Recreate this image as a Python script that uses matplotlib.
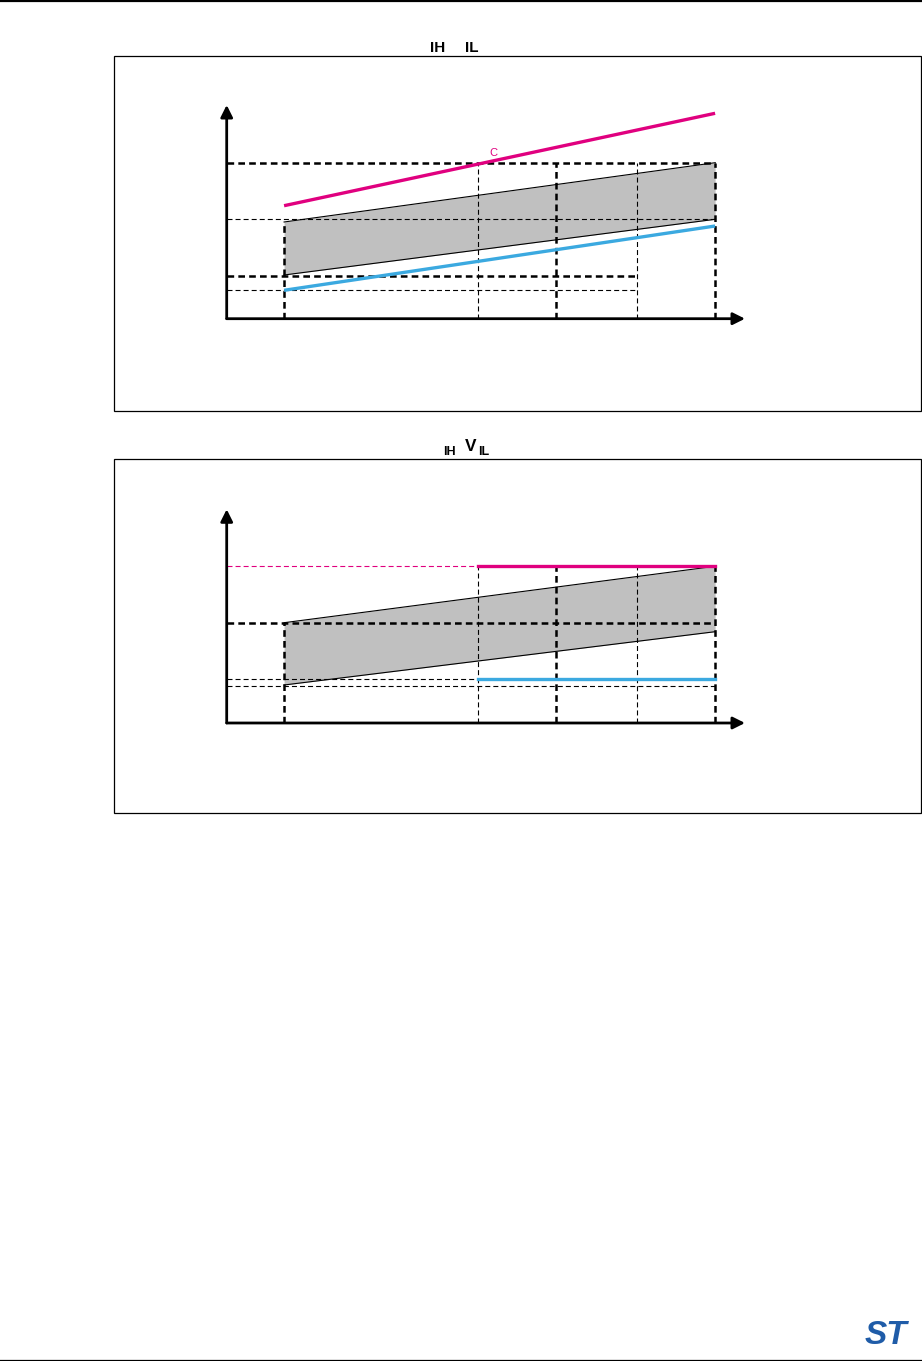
import matplotlib
matplotlib.use('Agg')
import matplotlib.pyplot as plt
from matplotlib.patches import Rectangle
from matplotlib.lines import Line2D

plt.rcParams['lines.scale_dashes'] = False
plt.rcParams['font.family'] = ['Liberation Sans', 'DejaVu Sans']

# ---------------- data (schematic values) ----------------
vdd = [2.0, 2.72, 3.01, 3.31, 3.6]          # supply levels along the x axis
x_range = [1.787, 3.711]                    # x axis extent (origin .. arrow tip)
y_range = [0.0, 2.137]                      # y axis extent (origin .. arrow tip)

# upper diagram
top_vih_limit = [1.13, 2.054]               # magenta line at vdd[0] and vdd[-1]
top_vil_limit = [0.284, 0.927]              # blue line at vdd[0] and vdd[-1]
top_band_upper = [0.967, 1.56]              # grey band upper edge
top_band_lower = [0.437, 0.994]             # grey band lower edge
top_thick_levels = [1.56, 0.43]
top_thin_levels = [0.994, 0.284]
top_label = 'C'
top_label_pos = [2.778, 1.66]

# lower diagram
bot_vih_limit = 1.567
bot_vil_limit = 0.437
bot_band_upper = [1.003, 1.567]
bot_band_lower = [0.38, 0.913]
bot_thick_level = 1.003
bot_thin_level = 0.367

# ---------------- style ----------------
W, H, DPI = 922, 1361, 100
MAGENTA = '#E0007F'
BLUE = '#3BA9E0'
GREY = '#C0C0C0'
THICK = dict(color='black', lw=1.8, dashes=(4.8, 3.0), solid_capstyle='butt', clip_on=False)
THIN = dict(color='black', lw=0.8, dashes=(3.6, 2.2), clip_on=False)

fig = plt.figure(figsize=(W / DPI, H / DPI), dpi=DPI)


def fx(px):
    return px / W


def fy(py):
    return 1 - py / H


def make_axes(x_axis_py):
    left, right, top = 226.7, 745.0, x_axis_py - 213.7
    ax = fig.add_axes([fx(left), fy(x_axis_py), fx(right - left), (x_axis_py - top) / H])
    ax.set_xlim(*x_range)
    ax.set_ylim(*y_range)
    ax.axis('off')
    arrow = dict(arrowstyle='-|>', lw=2.0, color='black', mutation_scale=18, shrinkA=0, shrinkB=0)
    ax.annotate('', xy=(1, 0), xytext=(0, 0), xycoords='axes fraction', arrowprops=arrow)
    ax.annotate('', xy=(0, 1), xytext=(0, 0), xycoords='axes fraction', arrowprops=arrow)
    return ax


x0 = x_range[0]
ends = [vdd[0], vdd[-1]]

# ---------------- upper diagram ----------------
ax1 = make_axes(318.7)
ax1.fill_between(ends, top_band_lower, top_band_upper, color=GREY, lw=0, zorder=1)
ax1.plot(ends, top_band_upper, color='black', lw=0.8, zorder=2)
ax1.plot(ends, top_band_lower, color='black', lw=0.8, zorder=2)
ax1.plot([x0, vdd[-1]], [top_thick_levels[0]] * 2, zorder=2, **THICK)
ax1.plot([x0, vdd[3]], [top_thick_levels[1]] * 2, zorder=2, **THICK)
ax1.plot([x0, vdd[-1]], [top_thin_levels[0]] * 2, zorder=2, **THIN)
ax1.plot([x0, vdd[3]], [top_thin_levels[1]] * 2, zorder=2, **THIN)
ax1.plot([vdd[0]] * 2, [0, top_band_upper[0]], zorder=2, **THICK)
for i, style in zip([1, 2, 3, 4], [THIN, THICK, THIN, THICK]):
    ax1.plot([vdd[i]] * 2, [0, top_thick_levels[0]], zorder=2, **style)
ax1.plot(ends, top_vih_limit, color=MAGENTA, lw=2.4, zorder=3, solid_capstyle='butt')
ax1.plot(ends, top_vil_limit, color=BLUE, lw=2.4, zorder=3, solid_capstyle='butt')
ax1.text(top_label_pos[0], top_label_pos[1], top_label, color=MAGENTA, fontsize=8,
         ha='center', va='center')

# ---------------- lower diagram ----------------
ax2 = make_axes(723.0)
ax2.fill_between(ends, bot_band_lower, bot_band_upper, color=GREY, lw=0, zorder=1)
ax2.plot(ends, bot_band_upper, color='black', lw=0.8, zorder=2)
ax2.plot(ends, bot_band_lower, color='black', lw=0.8, zorder=2)
ax2.plot([x0, vdd[-1]], [bot_thick_level] * 2, zorder=2, **THICK)
ax2.plot([x0, vdd[1]], [bot_vil_limit] * 2, zorder=2, **THIN)
ax2.plot([x0, vdd[-1]], [bot_thin_level] * 2, zorder=2, **THIN)
ax2.plot([x0, vdd[1]], [bot_vih_limit] * 2, zorder=2, **dict(THIN, color=MAGENTA))
ax2.plot([vdd[0]] * 2, [0, bot_thick_level], zorder=2, **THICK)
for i, style in zip([1, 2, 3, 4], [THIN, THICK, THIN, THICK]):
    ax2.plot([vdd[i]] * 2, [0, bot_vih_limit], zorder=2, **style)
ax2.plot([vdd[1], vdd[-1]], [bot_vih_limit] * 2, color=MAGENTA, lw=2.4, zorder=3,
         solid_capstyle='projecting')
ax2.plot([vdd[1], vdd[-1]], [bot_vil_limit] * 2, color=BLUE, lw=2.4, zorder=3,
         solid_capstyle='projecting')

# ---------------- page decorations ----------------
for (l, t, r, b) in [(114.3, 56.0, 920.7, 411.0), (114.3, 459.3, 920.7, 813.5)]:
    fig.add_artist(Rectangle((fx(l), fy(b)), fx(r - l), (b - t) / H, fill=False,
                             edgecolor='black', lw=0.9, transform=fig.transFigure))

fig.add_artist(Line2D([0, 1], [fy(0.5), fy(0.5)], color='black', lw=1.6, transform=fig.transFigure))
fig.add_artist(Line2D([0, 1], [fy(1359.5), fy(1359.5)], color='black', lw=0.9, transform=fig.transFigure))

fig.text(fx(437.5), fy(48.3), 'IH', fontsize=11, fontweight='bold', ha='center', va='center')
fig.text(fx(471.5), fy(48.3), 'IL', fontsize=11, fontweight='bold', ha='center', va='center')
fig.text(fx(449.2), fy(451.7), 'IH', fontsize=9, fontweight='bold', ha='center', va='center')
fig.text(fx(470.9), fy(446.2), 'V', fontsize=12.4, fontweight='bold', ha='center', va='center')
fig.text(fx(484.0), fy(451.7), 'IL', fontsize=9, fontweight='bold', ha='center', va='center')

fig.text(fx(886), fy(1336), 'ST', fontsize=24, fontweight='heavy', fontstyle='italic',
         color='#1F5CA8', ha='center', va='center')

fig.savefig('out.png', dpi=DPI)
